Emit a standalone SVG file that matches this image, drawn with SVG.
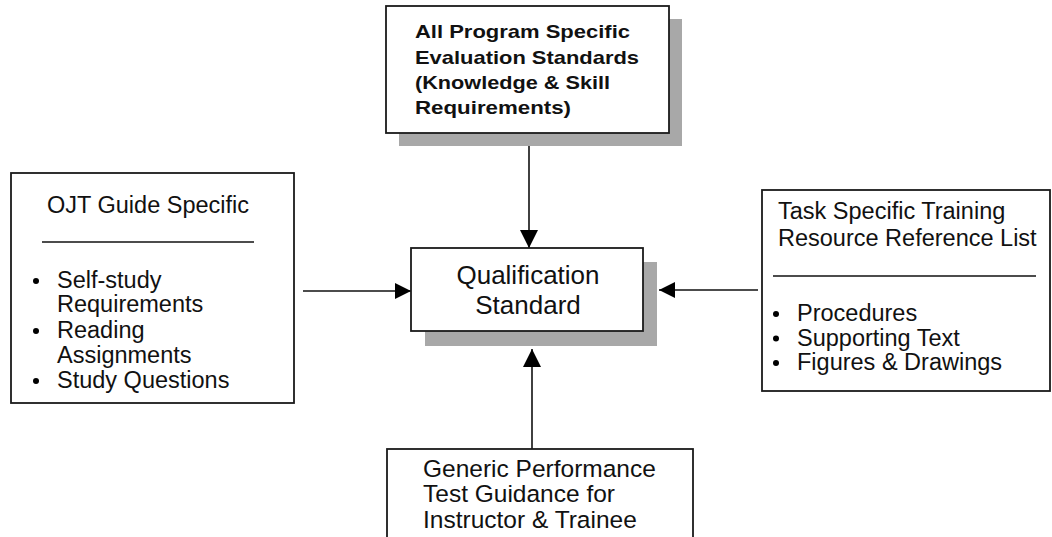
<svg xmlns="http://www.w3.org/2000/svg" width="1052" height="537" viewBox="0 0 1052 537">
<style>
.box{fill:#fff;stroke:#1a1a1a;stroke-width:1.8}
.shadow{fill:#a8a8a8}
.t{font-family:"Liberation Sans",Arial,sans-serif;font-size:23.5px;fill:#111}
.tg{font-family:"Liberation Sans",Arial,sans-serif;font-size:24.5px;fill:#111}
.tb{font-family:"Liberation Sans",Arial,sans-serif;font-size:19px;font-weight:bold;fill:#111}
.tc{font-family:"Liberation Sans",Arial,sans-serif;font-size:26px;fill:#111}
.rule{stroke:#111;stroke-width:1.5}
.conn{stroke:#111;stroke-width:1.6;fill:none}
</style>
<defs>
<marker id="ah" viewBox="0 0 16 16" refX="16" refY="8" markerWidth="16" markerHeight="16" markerUnits="userSpaceOnUse" orient="auto">
<path d="M0,0 L16,8 L0,16 Z" fill="#000"/>
</marker>
<marker id="av" viewBox="0 0 18 18" refX="18" refY="9" markerWidth="18" markerHeight="18" markerUnits="userSpaceOnUse" orient="auto">
<path d="M0,0 L18,9 L0,18 Z" fill="#000"/>
</marker>
</defs>
<g id="connectors">
<path class="conn" d="M529,146 L529,248" marker-end="url(#av)"/>
<path class="conn" d="M303,291 L411,291" marker-end="url(#ah)"/>
<path class="conn" d="M758,290 L659,290" marker-end="url(#ah)"/>
<path class="conn" d="M532,449 L532,349" marker-end="url(#av)"/>
</g>
<g id="node-evaluation-standards">
<rect class="shadow" x="399" y="19" width="283" height="127"/>
<rect class="box" x="386" y="6" width="283" height="127"/>
<text class="tb" x="415" y="38" textLength="215" lengthAdjust="spacingAndGlyphs">All Program Specific</text>
<text class="tb" x="415" y="63.5" textLength="224" lengthAdjust="spacingAndGlyphs">Evaluation Standards</text>
<text class="tb" x="415" y="89" textLength="195" lengthAdjust="spacingAndGlyphs">(Knowledge &amp; Skill</text>
<text class="tb" x="415" y="114" textLength="156" lengthAdjust="spacingAndGlyphs">Requirements)</text>
</g>
<g id="node-ojt-guide">
<rect class="box" x="11" y="173" width="283" height="230"/>
<text class="t" x="47" y="213">OJT Guide Specific</text>
<line class="rule" x1="42" y1="242" x2="254" y2="242"/>
<circle cx="36" cy="281" r="3"/>
<text class="t" x="57" y="288">Self-study</text>
<text class="t" x="57" y="312">Requirements</text>
<circle cx="36" cy="331" r="3"/>
<text class="t" x="57" y="338">Reading</text>
<text class="t" x="57" y="363">Assignments</text>
<circle cx="36" cy="381" r="3"/>
<text class="t" x="57" y="388">Study Questions</text>
</g>
<g id="node-qualification-standard">
<rect class="shadow" x="425" y="262" width="232" height="84"/>
<rect class="box" x="411" y="248" width="232" height="83"/>
<text class="tc" x="528" y="284" text-anchor="middle">Qualification</text>
<text class="tc" x="528" y="314" text-anchor="middle">Standard</text>
</g>
<g id="node-task-specific">
<rect class="box" x="762" y="190" width="288" height="201"/>
<text class="t" x="778" y="219">Task Specific Training</text>
<text class="t" x="778" y="246">Resource Reference List</text>
<line class="rule" x1="773" y1="276" x2="1036" y2="276"/>
<circle cx="776" cy="314" r="3"/>
<text class="t" x="797" y="321">Procedures</text>
<circle cx="776" cy="338.5" r="3"/>
<text class="t" x="797" y="345.5">Supporting Text</text>
<circle cx="776" cy="363" r="3"/>
<text class="t" x="797" y="370">Figures &amp; Drawings</text>
</g>
<g id="node-performance-test">
<rect class="box" x="387" y="449" width="306" height="100"/>
<text class="tg" x="423" y="477">Generic Performance</text>
<text class="tg" x="423" y="502">Test Guidance for</text>
<text class="tg" x="423" y="528">Instructor &amp; Trainee</text>
</g>
</svg>
